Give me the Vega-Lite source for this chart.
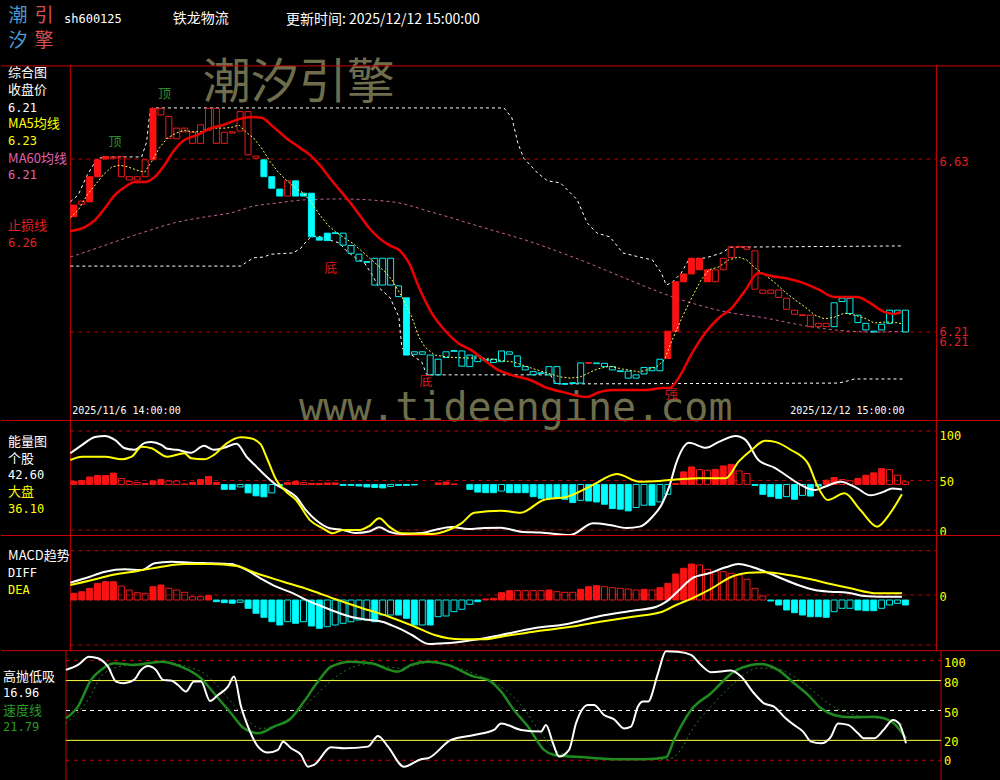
{
"$schema": "https://vega.github.io/schema/vega-lite/v6.json",
"background": "#000000",
"padding": 0,
"spacing": 0,
"bounds": "flush",
"config": {"view": {"stroke": null}, "axis": {"disable": true}, "text": {"font": "Noto Sans CJK SC", "fontSize": 13, "baseline": "middle", "align": "left"}},
"datasets": {
"one": [{}],
"candles": [
{"i":0,"open":6.490,"close":6.518,"s":1},{"i":1,"open":6.520,"close":6.528,"s":0},{"i":2,"open":6.526,"close":6.587,"s":1},{"i":3,"open":6.587,"close":6.628,"s":1},{"i":4,"open":6.630,"close":6.636,"s":1},{"i":5,"open":6.632,"close":6.635,"s":0},{"i":6,"open":6.587,"close":6.636,"s":0},{"i":7,"open":6.579,"close":6.587,"s":0},{"i":8,"open":6.579,"close":6.587,"s":0},{"i":9,"open":6.587,"close":6.628,"s":0},
{"i":10,"open":6.628,"close":6.753,"s":1},{"i":11,"open":6.737,"close":6.753,"s":0},{"i":12,"open":6.680,"close":6.733,"s":0},{"i":13,"open":6.679,"close":6.705,"s":0},{"i":14,"open":6.696,"close":6.705,"s":0},{"i":15,"open":6.668,"close":6.695,"s":0},{"i":16,"open":6.668,"close":6.713,"s":0},{"i":17,"open":6.700,"close":6.753,"s":0},{"i":18,"open":6.668,"close":6.753,"s":0},{"i":19,"open":6.668,"close":6.695,"s":0},
{"i":20,"open":6.693,"close":6.696,"s":0},{"i":21,"open":6.698,"close":6.745,"s":0},{"i":22,"open":6.640,"close":6.745,"s":0},{"i":23,"open":6.632,"close":6.637,"s":0},{"i":24,"open":6.628,"close":6.587,"s":1},{"i":25,"open":6.587,"close":6.559,"s":1},{"i":26,"open":6.557,"close":6.540,"s":1},{"i":27,"open":6.540,"close":6.577,"s":0},{"i":28,"open":6.577,"close":6.540,"s":1},{"i":29,"open":6.547,"close":6.540,"s":1},
{"i":30,"open":6.547,"close":6.441,"s":1},{"i":31,"open":6.440,"close":6.433,"s":1},{"i":32,"open":6.450,"close":6.432,"s":1},{"i":33,"open":6.451,"close":6.449,"s":0},{"i":34,"open":6.450,"close":6.421,"s":0},{"i":35,"open":6.420,"close":6.401,"s":0},{"i":36,"open":6.399,"close":6.382,"s":0},{"i":37,"open":6.381,"close":6.379,"s":0},{"i":38,"open":6.389,"close":6.324,"s":0},{"i":39,"open":6.389,"close":6.324,"s":0},
{"i":40,"open":6.389,"close":6.324,"s":0},{"i":41,"open":6.322,"close":6.296,"s":0},{"i":42,"open":6.293,"close":6.154,"s":1},{"i":43,"open":6.162,"close":6.156,"s":0},{"i":44,"open":6.162,"close":6.156,"s":0},{"i":45,"open":6.154,"close":6.106,"s":0},{"i":46,"open":6.144,"close":6.106,"s":0},{"i":47,"open":6.162,"close":6.148,"s":0},{"i":48,"open":6.165,"close":6.163,"s":0},{"i":49,"open":6.164,"close":6.127,"s":0},
{"i":50,"open":6.154,"close":6.126,"s":0},{"i":51,"open":6.152,"close":6.138,"s":0},{"i":52,"open":6.143,"close":6.141,"s":0},{"i":53,"open":6.144,"close":6.136,"s":0},{"i":54,"open":6.164,"close":6.138,"s":0},{"i":55,"open":6.162,"close":6.156,"s":0},{"i":56,"open":6.152,"close":6.126,"s":0},{"i":57,"open":6.126,"close":6.118,"s":0},{"i":58,"open":6.114,"close":6.106,"s":0},{"i":59,"open":6.111,"close":6.109,"s":0},
{"i":60,"open":6.126,"close":6.106,"s":0},{"i":61,"open":6.126,"close":6.085,"s":0},{"i":62,"open":6.085,"close":6.083,"s":0},{"i":63,"open":6.087,"close":6.085,"s":0},{"i":64,"open":6.135,"close":6.086,"s":0},{"i":65,"open":6.134,"close":6.136,"s":0},{"i":66,"open":6.135,"close":6.133,"s":0},{"i":67,"open":6.134,"close":6.126,"s":0},{"i":68,"open":6.126,"close":6.118,"s":0},{"i":69,"open":6.116,"close":6.114,"s":0},
{"i":70,"open":6.115,"close":6.098,"s":0},{"i":71,"open":6.106,"close":6.098,"s":0},{"i":72,"open":6.124,"close":6.108,"s":0},{"i":73,"open":6.124,"close":6.116,"s":0},{"i":74,"open":6.144,"close":6.116,"s":0},{"i":75,"open":6.146,"close":6.212,"s":1},{"i":76,"open":6.212,"close":6.332,"s":1},{"i":77,"open":6.332,"close":6.351,"s":1},{"i":78,"open":6.351,"close":6.389,"s":1},{"i":79,"open":6.361,"close":6.389,"s":1},
{"i":80,"open":6.332,"close":6.361,"s":1},{"i":81,"open":6.332,"close":6.361,"s":0},{"i":82,"open":6.361,"close":6.389,"s":0},{"i":83,"open":6.391,"close":6.417,"s":0},{"i":84,"open":6.416,"close":6.418,"s":0},{"i":85,"open":6.411,"close":6.417,"s":0},{"i":86,"open":6.314,"close":6.407,"s":0},{"i":87,"open":6.304,"close":6.312,"s":0},{"i":88,"open":6.304,"close":6.312,"s":0},{"i":89,"open":6.294,"close":6.312,"s":0},
{"i":90,"open":6.265,"close":6.292,"s":0},{"i":91,"open":6.253,"close":6.263,"s":0},{"i":92,"open":6.250,"close":6.252,"s":0},{"i":93,"open":6.223,"close":6.251,"s":0},{"i":94,"open":6.223,"close":6.231,"s":0},{"i":95,"open":6.223,"close":6.231,"s":0},{"i":96,"open":6.281,"close":6.223,"s":0},{"i":97,"open":6.292,"close":6.284,"s":0},{"i":98,"open":6.292,"close":6.255,"s":0},{"i":99,"open":6.251,"close":6.233,"s":0},
{"i":100,"open":6.231,"close":6.215,"s":0},{"i":101,"open":6.212,"close":6.210,"s":0},{"i":102,"open":6.229,"close":6.215,"s":0},{"i":103,"open":6.263,"close":6.231,"s":0},{"i":104,"open":6.263,"close":6.255,"s":0},{"i":105,"open":6.263,"close":6.210,"s":0}
],
"upper": [{"t":-0.44,"p":6.526},{"t":0.56,"p":6.543},{"t":1.69,"p":6.591},{"t":2.44,"p":6.615},{"t":3.06,"p":6.632},{"t":4.56,"p":6.635},{"t":8.56,"p":6.635},{"t":9.19,"p":6.671},{"t":9.56,"p":6.737},{"t":9.94,"p":6.754},{"t":54.31,"p":6.754},{"t":55.31,"p":6.730},{"t":56.06,"p":6.669},{"t":56.81,"p":6.632},{"t":58.56,"p":6.596},{"t":59.81,"p":6.577},{"t":61.44,"p":6.572},{"t":63.56,"p":6.531},{"t":64.81,"p":6.475},{"t":66.06,"p":6.450},{"t":67.69,"p":6.441},{"t":69.31,"p":6.402},{"t":71.81,"p":6.390},{"t":73.06,"p":6.385},{"t":74.19,"p":6.353},{"t":74.81,"p":6.324},{"t":75.56,"p":6.331},{"t":76.69,"p":6.353},{"t":77.69,"p":6.387},{"t":79.81,"p":6.390},{"t":81.81,"p":6.402},{"t":82.94,"p":6.416},{"t":104.56,"p":6.419}],
"lower": [{"t":-0.44,"p":6.370},{"t":21.06,"p":6.370},{"t":21.69,"p":6.378},{"t":22.69,"p":6.390},{"t":23.94,"p":6.392},{"t":24.94,"p":6.399},{"t":27.69,"p":6.402},{"t":28.69,"p":6.414},{"t":29.31,"p":6.429},{"t":29.94,"p":6.441},{"t":30.81,"p":6.443},{"t":32.31,"p":6.433},{"t":33.56,"p":6.426},{"t":34.31,"p":6.409},{"t":35.56,"p":6.390},{"t":36.69,"p":6.378},{"t":37.69,"p":6.348},{"t":38.56,"p":6.317},{"t":39.94,"p":6.293},{"t":41.06,"p":6.246},{"t":41.19,"p":6.215},{"t":41.44,"p":6.171},{"t":42.69,"p":6.154},{"t":43.94,"p":6.137},{"t":44.56,"p":6.106},{"t":60.19,"p":6.106},{"t":60.56,"p":6.093},{"t":61.06,"p":6.084},{"t":96.44,"p":6.086},{"t":97.31,"p":6.089},{"t":98.56,"p":6.096},{"t":104.81,"p":6.096}],
"ma60": [{"t":-0.44,"p":6.392},{"t":1.44,"p":6.404},{"t":5.19,"p":6.429},{"t":8.94,"p":6.453},{"t":12.69,"p":6.475},{"t":16.44,"p":6.489},{"t":20.19,"p":6.501},{"t":22.31,"p":6.514},{"t":25.56,"p":6.523},{"t":29.31,"p":6.531},{"t":33.56,"p":6.533},{"t":40.19,"p":6.526},{"t":45.19,"p":6.501},{"t":51.44,"p":6.465},{"t":57.69,"p":6.429},{"t":63.94,"p":6.385},{"t":70.19,"p":6.336},{"t":73.94,"p":6.307},{"t":78.06,"p":6.280},{"t":82.31,"p":6.259},{"t":87.31,"p":6.244},{"t":91.81,"p":6.227},{"t":96.06,"p":6.215},{"t":101.06,"p":6.210},{"t":104.81,"p":6.212}],
"ma5": [{"t":-0.44,"p":6.487},{"t":0.56,"p":6.506},{"t":1.69,"p":6.543},{"t":2.69,"p":6.567},{"t":3.69,"p":6.591},{"t":4.81,"p":6.611},{"t":5.81,"p":6.615},{"t":6.81,"p":6.611},{"t":7.94,"p":6.603},{"t":8.94,"p":6.598},{"t":9.81,"p":6.623},{"t":10.81,"p":6.657},{"t":11.81,"p":6.681},{"t":12.94,"p":6.693},{"t":13.94,"p":6.700},{"t":14.94,"p":6.696},{"t":16.06,"p":6.696},{"t":17.06,"p":6.705},{"t":19.19,"p":6.705},{"t":20.19,"p":6.708},{"t":20.81,"p":6.713},{"t":21.69,"p":6.696},{"t":22.69,"p":6.681},{"t":23.69,"p":6.657},{"t":24.81,"p":6.623},{"t":25.81,"p":6.598},{"t":26.81,"p":6.579},{"t":27.94,"p":6.560},{"t":28.94,"p":6.548},{"t":29.94,"p":6.526},{"t":31.06,"p":6.494},{"t":32.06,"p":6.470},{"t":33.06,"p":6.453},{"t":34.19,"p":6.438},{"t":35.19,"p":6.426},{"t":36.19,"p":6.409},{"t":37.31,"p":6.390},{"t":38.31,"p":6.373},{"t":39.31,"p":6.356},{"t":40.19,"p":6.336},{"t":41.44,"p":6.295},{"t":42.69,"p":6.246},{"t":43.56,"p":6.198},{"t":44.31,"p":6.174},{"t":45.56,"p":6.154},{"t":47.31,"p":6.149},{"t":49.31,"p":6.147},{"t":51.44,"p":6.147},{"t":53.56,"p":6.142},{"t":55.56,"p":6.137},{"t":57.69,"p":6.123},{"t":59.81,"p":6.110},{"t":61.44,"p":6.101},{"t":62.69,"p":6.098},{"t":63.94,"p":6.101},{"t":66.06,"p":6.120},{"t":67.69,"p":6.127},{"t":69.31,"p":6.120},{"t":71.44,"p":6.113},{"t":73.56,"p":6.125},{"t":74.56,"p":6.142},{"t":75.56,"p":6.191},{"t":76.81,"p":6.246},{"t":78.06,"p":6.295},{"t":79.19,"p":6.336},{"t":80.19,"p":6.361},{"t":81.44,"p":6.368},{"t":82.69,"p":6.385},{"t":83.94,"p":6.392},{"t":84.94,"p":6.385},{"t":86.06,"p":6.365},{"t":87.31,"p":6.348},{"t":88.56,"p":6.329},{"t":89.81,"p":6.307},{"t":91.06,"p":6.288},{"t":92.31,"p":6.271},{"t":93.56,"p":6.251},{"t":94.81,"p":6.242},{"t":96.06,"p":6.246},{"t":97.31,"p":6.256},{"t":98.56,"p":6.251},{"t":99.81,"p":6.244},{"t":101.06,"p":6.232},{"t":102.31,"p":6.234},{"t":103.56,"p":6.234},{"t":104.56,"p":6.230}],
"stop": [{"t":-0.44,"p":6.455},{"t":1.44,"p":6.465},{"t":2.69,"p":6.482},{"t":3.94,"p":6.511},{"t":5.19,"p":6.543},{"t":6.44,"p":6.562},{"t":7.69,"p":6.574},{"t":8.94,"p":6.574},{"t":10.19,"p":6.586},{"t":11.44,"p":6.615},{"t":12.69,"p":6.652},{"t":13.94,"p":6.676},{"t":15.56,"p":6.688},{"t":17.31,"p":6.705},{"t":18.94,"p":6.713},{"t":20.56,"p":6.725},{"t":22.31,"p":6.732},{"t":23.69,"p":6.730},{"t":25.19,"p":6.708},{"t":26.81,"p":6.681},{"t":28.56,"p":6.657},{"t":29.81,"p":6.640},{"t":31.06,"p":6.615},{"t":32.31,"p":6.584},{"t":33.56,"p":6.555},{"t":34.81,"p":6.526},{"t":36.06,"p":6.494},{"t":37.31,"p":6.462},{"t":38.56,"p":6.438},{"t":39.81,"p":6.421},{"t":41.06,"p":6.409},{"t":42.31,"p":6.378},{"t":43.56,"p":6.319},{"t":45.19,"p":6.256},{"t":46.81,"p":6.215},{"t":48.56,"p":6.183},{"t":50.19,"p":6.166},{"t":51.81,"p":6.142},{"t":53.56,"p":6.118},{"t":55.19,"p":6.106},{"t":57.69,"p":6.093},{"t":59.81,"p":6.074},{"t":61.81,"p":6.064},{"t":64.81,"p":6.052},{"t":66.06,"p":6.062},{"t":68.06,"p":6.069},{"t":72.31,"p":6.069},{"t":74.31,"p":6.074},{"t":75.19,"p":6.074},{"t":76.44,"p":6.101},{"t":78.06,"p":6.159},{"t":79.81,"p":6.210},{"t":81.44,"p":6.244},{"t":83.06,"p":6.268},{"t":84.81,"p":6.312},{"t":86.44,"p":6.353},{"t":88.06,"p":6.346},{"t":89.81,"p":6.341},{"t":91.81,"p":6.331},{"t":93.94,"p":6.314},{"t":96.06,"p":6.295},{"t":98.94,"p":6.295},{"t":100.56,"p":6.280},{"t":102.31,"p":6.259},{"t":103.56,"p":6.254},{"t":104.56,"p":6.260}],
"signals": [{"t":5.19,"p":6.671,"label":"顶"},{"t":11.44,"p":6.788,"label":"顶"},{"t":32.44,"p":6.365,"label":"底"},{"t":44.44,"p":6.092,"label":"底"},{"t":75.44,"p":6.059,"label":"强"}],
"ebars": [
{"i":0,"v":49,"s":1},{"i":1,"v":50,"s":1},{"i":2,"v":53.5,"s":1},{"i":3,"v":55,"s":1},{"i":4,"v":55,"s":1},{"i":5,"v":57.5,"s":1},{"i":6,"v":52,"s":0},{"i":7,"v":49,"s":0},{"i":8,"v":48,"s":0},{"i":9,"v":47,"s":0},
{"i":10,"v":49.5,"s":1},{"i":11,"v":51,"s":1},{"i":12,"v":49.5,"s":0},{"i":13,"v":49.5,"s":0},{"i":14,"v":46.5,"s":0},{"i":15,"v":48,"s":1},{"i":16,"v":51,"s":1},{"i":17,"v":54,"s":1},{"i":18,"v":48,"s":1},{"i":19,"v":41,"s":1},
{"i":20,"v":41,"s":1},{"i":21,"v":43.5,"s":0},{"i":22,"v":37.5,"s":1},{"i":23,"v":34.5,"s":1},{"i":24,"v":33.5,"s":1},{"i":25,"v":37.5,"s":0},{"i":26,"v":45,"s":0},{"i":27,"v":48,"s":1},{"i":28,"v":49,"s":1},{"i":29,"v":48,"s":0},
{"i":30,"v":47,"s":1},{"i":31,"v":47,"s":1},{"i":32,"v":47.5,"s":1},{"i":33,"v":47.5,"s":1},{"i":34,"v":45,"s":1},{"i":35,"v":45,"s":1},{"i":36,"v":44.5,"s":1},{"i":37,"v":43.5,"s":1},{"i":38,"v":43,"s":1},{"i":39,"v":42.5,"s":1},
{"i":40,"v":44,"s":0},{"i":41,"v":45,"s":1},{"i":42,"v":45,"s":1},{"i":43,"v":45.5,"s":1},{"i":46,"v":47.5,"s":1},{"i":47,"v":48.5,"s":1},{"i":48,"v":46.5,"s":1},
{"i":50,"v":41,"s":1},{"i":51,"v":38.3,"s":1},{"i":52,"v":37.7,"s":1},{"i":53,"v":37.7,"s":1},{"i":54,"v":39.3,"s":0},{"i":55,"v":37.7,"s":1},{"i":56,"v":37.7,"s":1},{"i":57,"v":37.7,"s":1},{"i":58,"v":33.7,"s":1},{"i":59,"v":32,"s":1},
{"i":60,"v":32,"s":1},{"i":61,"v":32,"s":1},{"i":62,"v":31,"s":1},{"i":63,"v":27.7,"s":1},{"i":64,"v":30,"s":0},{"i":65,"v":29.3,"s":1},{"i":66,"v":28.3,"s":1},{"i":67,"v":26,"s":1},{"i":68,"v":21.7,"s":1},{"i":69,"v":21,"s":1},
{"i":70,"v":19.3,"s":1},{"i":71,"v":22.7,"s":0},{"i":72,"v":25,"s":0},{"i":73,"v":25,"s":1},{"i":74,"v":28.3,"s":0},{"i":75,"v":36,"s":0},{"i":76,"v":47,"s":1},{"i":77,"v":58.7,"s":1},{"i":78,"v":63.7,"s":1},{"i":79,"v":61,"s":0},
{"i":80,"v":60.3,"s":0},{"i":81,"v":61.3,"s":1},{"i":82,"v":64.7,"s":1},{"i":83,"v":66.3,"s":1},{"i":84,"v":59.7,"s":0},{"i":85,"v":57,"s":0},{"i":86,"v":45,"s":1},{"i":87,"v":36,"s":1},{"i":88,"v":33.7,"s":1},{"i":89,"v":32,"s":1},
{"i":90,"v":33.7,"s":0},{"i":91,"v":31,"s":1},{"i":92,"v":35,"s":0},{"i":93,"v":34.3,"s":1},{"i":94,"v":44.3,"s":1},{"i":95,"v":50.3,"s":1},{"i":96,"v":53,"s":1},{"i":97,"v":51,"s":0},{"i":98,"v":49.7,"s":0},{"i":99,"v":52,"s":1},
{"i":100,"v":55.3,"s":1},{"i":101,"v":57.7,"s":1},{"i":102,"v":62,"s":1},{"i":103,"v":61,"s":0},{"i":104,"v":55.3,"s":0},{"i":105,"v":48.7,"s":0}
],
"stock": [{"t":-0.44,"v":77.5},{"t":1.06,"v":86},{"t":2.69,"v":94},{"t":3.94,"v":95},{"t":5.19,"v":91},{"t":6.44,"v":82.5},{"t":7.69,"v":81},{"t":8.94,"v":88},{"t":9.81,"v":89},{"t":11.06,"v":86},{"t":11.81,"v":82},{"t":13.06,"v":81},{"t":14.81,"v":78},{"t":16.44,"v":85},{"t":17.69,"v":81},{"t":18.94,"v":83},{"t":20.56,"v":87},{"t":21.81,"v":74},{"t":23.06,"v":64},{"t":24.31,"v":54},{"t":25.56,"v":45.5},{"t":26.81,"v":40.5},{"t":28.06,"v":33.6},{"t":29.31,"v":20},{"t":30.56,"v":10},{"t":32.31,"v":1.7},{"t":33.94,"v":0},{"t":35.56,"v":-3},{"t":37.31,"v":-1.5},{"t":38.56,"v":2.7},{"t":39.81,"v":-1.7},{"t":41.44,"v":-4},{"t":43.94,"v":-3},{"t":45.56,"v":0},{"t":47.69,"v":3},{"t":49.81,"v":1},{"t":51.81,"v":2},{"t":53.94,"v":2.3},{"t":56.44,"v":-1.7},{"t":58.94,"v":-2.5},{"t":62.69,"v":-5},{"t":65.56,"v":6.7},{"t":67.69,"v":5},{"t":69.81,"v":2},{"t":71.44,"v":3.4},{"t":73.06,"v":13.4},{"t":74.31,"v":27},{"t":75.19,"v":44},{"t":76.06,"v":67.6},{"t":77.69,"v":88},{"t":79.81,"v":83},{"t":81.44,"v":89},{"t":83.56,"v":95},{"t":84.81,"v":91},{"t":86.44,"v":70.7},{"t":88.56,"v":62.6},{"t":90.19,"v":53.8},{"t":91.81,"v":45.5},{"t":93.56,"v":40.4},{"t":94.81,"v":43.7},{"t":96.81,"v":48.8},{"t":98.94,"v":42},{"t":100.56,"v":35},{"t":102.31,"v":38.7},{"t":103.31,"v":42},{"t":104.56,"v":41}],
"market": [{"t":-0.44,"v":70.7},{"t":1.06,"v":74},{"t":3.94,"v":74},{"t":6.06,"v":71.4},{"t":7.31,"v":74},{"t":8.56,"v":84},{"t":9.81,"v":82.5},{"t":11.81,"v":74},{"t":13.94,"v":77.5},{"t":14.81,"v":72.4},{"t":16.44,"v":71.4},{"t":17.69,"v":75.8},{"t":19.31,"v":87.5},{"t":21.06,"v":93.6},{"t":22.31,"v":92.6},{"t":23.56,"v":86.9},{"t":24.31,"v":74},{"t":25.56,"v":50.5},{"t":26.81,"v":38.7},{"t":28.06,"v":30.3},{"t":29.81,"v":10},{"t":31.44,"v":1.7},{"t":32.69,"v":-3.4},{"t":33.94,"v":0},{"t":36.06,"v":0},{"t":37.31,"v":4},{"t":38.56,"v":11.8},{"t":39.81,"v":3.4},{"t":41.44,"v":-3.4},{"t":45.19,"v":-4},{"t":47.31,"v":0},{"t":48.94,"v":6.7},{"t":50.56,"v":17.5},{"t":53.94,"v":19.5},{"t":56.44,"v":17.5},{"t":59.31,"v":30.3},{"t":62.31,"v":33.6},{"t":65.56,"v":45.5},{"t":68.56,"v":56.6},{"t":71.44,"v":48.8},{"t":73.94,"v":49.5},{"t":76.44,"v":51.2},{"t":78.94,"v":52.2},{"t":82.31,"v":52.2},{"t":83.94,"v":69},{"t":85.56,"v":80.8},{"t":87.31,"v":90.2},{"t":88.56,"v":89},{"t":90.56,"v":80.8},{"t":92.69,"v":67.3},{"t":93.94,"v":43.7},{"t":95.19,"v":30.3},{"t":97.31,"v":37},{"t":99.31,"v":20.2},{"t":101.44,"v":3.4},{"t":103.06,"v":16.8},{"t":104.56,"v":36.1}],
"mbars": [
{"i":0,"v":0.0067,"s":1},{"i":1,"v":0.0083,"s":1},{"i":2,"v":0.0117,"s":1},{"i":3,"v":0.0167,"s":1},{"i":4,"v":0.0183,"s":1},{"i":5,"v":0.0183,"s":1},{"i":6,"v":0.014,"s":0},{"i":7,"v":0.01,"s":0},{"i":8,"v":0.0073,"s":0},{"i":9,"v":0.0067,"s":0},
{"i":10,"v":0.0133,"s":1},{"i":11,"v":0.015,"s":1},{"i":12,"v":0.0117,"s":0},{"i":13,"v":0.01,"s":0},{"i":14,"v":0.0077,"s":0},{"i":15,"v":0.0033,"s":0},{"i":16,"v":0.0033,"s":0},{"i":17,"v":0.0043,"s":1},{"i":18,"v":-0.0017,"s":1},{"i":19,"v":-0.0027,"s":1},
{"i":20,"v":-0.0033,"s":1},{"i":21,"v":-0.0023,"s":0},{"i":22,"v":-0.0083,"s":1},{"i":23,"v":-0.0133,"s":1},{"i":24,"v":-0.0173,"s":1},{"i":25,"v":-0.0217,"s":1},{"i":26,"v":-0.025,"s":1},{"i":27,"v":-0.0217,"s":0},{"i":28,"v":-0.0233,"s":1},{"i":29,"v":-0.0217,"s":0},
{"i":30,"v":-0.026,"s":1},{"i":31,"v":-0.0283,"s":1},{"i":32,"v":-0.0267,"s":0},{"i":33,"v":-0.025,"s":0},{"i":34,"v":-0.0233,"s":0},{"i":35,"v":-0.0217,"s":0},{"i":36,"v":-0.02,"s":0},{"i":37,"v":-0.02,"s":0},{"i":38,"v":-0.0217,"s":1},{"i":39,"v":-0.015,"s":0},
{"i":40,"v":-0.015,"s":0},{"i":41,"v":-0.015,"s":1},{"i":42,"v":-0.0183,"s":1},{"i":43,"v":-0.025,"s":1},{"i":44,"v":-0.025,"s":0},{"i":45,"v":-0.025,"s":1},{"i":46,"v":-0.0167,"s":0},{"i":47,"v":-0.016,"s":0},{"i":48,"v":-0.0117,"s":0},{"i":49,"v":-0.0093,"s":0},
{"i":50,"v":-0.0043,"s":0},{"i":51,"v":-0.0017,"s":1},{"i":52,"v":0.001,"s":1},{"i":53,"v":0.0017,"s":1},{"i":54,"v":0.0073,"s":1},{"i":55,"v":0.0093,"s":1},{"i":56,"v":0.0093,"s":0},{"i":57,"v":0.0093,"s":0},{"i":58,"v":0.0093,"s":0},{"i":59,"v":0.0093,"s":0},
{"i":60,"v":0.01,"s":1},{"i":61,"v":0.0083,"s":0},{"i":62,"v":0.0077,"s":0},{"i":63,"v":0.0077,"s":0},{"i":64,"v":0.0107,"s":1},{"i":65,"v":0.0133,"s":1},{"i":66,"v":0.0143,"s":1},{"i":67,"v":0.0133,"s":0},{"i":68,"v":0.0123,"s":0},{"i":69,"v":0.0117,"s":0},
{"i":70,"v":0.011,"s":0},{"i":71,"v":0.01,"s":0},{"i":72,"v":0.0107,"s":1},{"i":73,"v":0.01,"s":0},{"i":74,"v":0.0123,"s":1},{"i":75,"v":0.0167,"s":1},{"i":76,"v":0.026,"s":1},{"i":77,"v":0.0317,"s":1},{"i":78,"v":0.036,"s":1},{"i":79,"v":0.035,"s":0},
{"i":80,"v":0.0307,"s":0},{"i":81,"v":0.0283,"s":0},{"i":82,"v":0.0283,"s":0},{"i":83,"v":0.0267,"s":0},{"i":84,"v":0.025,"s":0},{"i":85,"v":0.0207,"s":0},{"i":86,"v":0.0117,"s":0},{"i":87,"v":0.004,"s":0},{"i":88,"v":-0.001,"s":1},{"i":89,"v":-0.005,"s":1},
{"i":90,"v":-0.01,"s":1},{"i":91,"v":-0.0127,"s":1},{"i":92,"v":-0.015,"s":1},{"i":93,"v":-0.0167,"s":1},{"i":94,"v":-0.0167,"s":1},{"i":95,"v":-0.0173,"s":1},{"i":96,"v":-0.0117,"s":0},{"i":97,"v":-0.0083,"s":0},{"i":98,"v":-0.0083,"s":0},{"i":99,"v":-0.01,"s":1},
{"i":100,"v":-0.0107,"s":1},{"i":101,"v":-0.0107,"s":1},{"i":102,"v":-0.0083,"s":0},{"i":103,"v":-0.005,"s":0},{"i":104,"v":-0.0033,"s":0},{"i":105,"v":-0.005,"s":1}
],
"diff": [{"t":-0.44,"v":0.0173},{"t":1.44,"v":0.0217},{"t":3.94,"v":0.0283},{"t":6.44,"v":0.0307},{"t":8.56,"v":0.03},{"t":10.19,"v":0.0367},{"t":12.31,"v":0.0383},{"t":14.81,"v":0.0373},{"t":17.31,"v":0.0367},{"t":19.81,"v":0.036},{"t":21.44,"v":0.0317},{"t":23.56,"v":0.0217},{"t":25.56,"v":0.0133},{"t":27.69,"v":0.0067},{"t":29.81,"v":-0.0017},{"t":31.44,"v":-0.0067},{"t":33.06,"v":-0.0117},{"t":35.19,"v":-0.0173},{"t":37.31,"v":-0.02},{"t":38.94,"v":-0.0217},{"t":40.56,"v":-0.0267},{"t":42.69,"v":-0.035},{"t":44.81,"v":-0.044},{"t":46.81,"v":-0.0433},{"t":48.94,"v":-0.0417},{"t":51.06,"v":-0.0393},{"t":53.94,"v":-0.035},{"t":58.06,"v":-0.0283},{"t":62.31,"v":-0.024},{"t":66.44,"v":-0.016},{"t":70.56,"v":-0.0107},{"t":73.56,"v":-0.0067},{"t":74.81,"v":-0.0017},{"t":76.44,"v":0.01},{"t":78.06,"v":0.0217},{"t":80.19,"v":0.0267},{"t":82.31,"v":0.0327},{"t":83.94,"v":0.036},{"t":85.56,"v":0.0333},{"t":87.31,"v":0.0283},{"t":89.31,"v":0.0217},{"t":91.44,"v":0.015},{"t":93.56,"v":0.01},{"t":95.56,"v":0.0083},{"t":97.69,"v":0.0073},{"t":99.81,"v":0.004},{"t":101.81,"v":0.0033},{"t":104.56,"v":0.0033}],
"dea": [{"t":-0.44,"v":0.015},{"t":2.31,"v":0.02},{"t":4.81,"v":0.025},{"t":8.06,"v":0.029},{"t":11.06,"v":0.0333},{"t":13.94,"v":0.036},{"t":17.31,"v":0.036},{"t":20.56,"v":0.034},{"t":23.06,"v":0.0267},{"t":26.44,"v":0.0183},{"t":29.81,"v":0.01},{"t":33.06,"v":0.0007},{"t":36.44,"v":-0.0083},{"t":39.81,"v":-0.0167},{"t":43.06,"v":-0.0267},{"t":45.56,"v":-0.035},{"t":48.94,"v":-0.0393},{"t":51.81,"v":-0.0393},{"t":53.94,"v":-0.0367},{"t":58.06,"v":-0.0317},{"t":62.31,"v":-0.0273},{"t":66.44,"v":-0.0217},{"t":70.56,"v":-0.0167},{"t":74.31,"v":-0.0117},{"t":76.06,"v":-0.005},{"t":78.06,"v":0.0017},{"t":80.56,"v":0.0117},{"t":83.06,"v":0.0233},{"t":85.19,"v":0.0273},{"t":87.31,"v":0.0277},{"t":90.19,"v":0.025},{"t":93.06,"v":0.0207},{"t":95.56,"v":0.016},{"t":98.06,"v":0.0117},{"t":101.44,"v":0.0067},{"t":104.56,"v":0.0067}],
"gaodi": [{"t":-0.44,"v":90.7},{"t":1.06,"v":95.7},{"t":2.44,"v":104},{"t":3.56,"v":102.4},{"t":4.81,"v":94},{"t":5.81,"v":79},{"t":6.81,"v":77.3},{"t":8.06,"v":80.7},{"t":8.94,"v":90.7},{"t":9.81,"v":94.7},{"t":10.81,"v":90.7},{"t":11.69,"v":80.7},{"t":12.69,"v":80},{"t":13.56,"v":75.6},{"t":14.56,"v":69},{"t":15.56,"v":79},{"t":16.44,"v":79},{"t":17.56,"v":59.6},{"t":18.56,"v":65.6},{"t":19.81,"v":74},{"t":20.56,"v":84},{"t":21.44,"v":53.9},{"t":22.31,"v":33.8},{"t":23.56,"v":13.7},{"t":24.81,"v":7.7},{"t":26.06,"v":10.4},{"t":26.69,"v":18.7},{"t":27.69,"v":12},{"t":28.94,"v":5.4},{"t":29.81,"v":-6.4},{"t":30.56,"v":-4.7},{"t":32.69,"v":13},{"t":34.31,"v":12},{"t":37.31,"v":13.7},{"t":38.56,"v":24.4},{"t":39.81,"v":13.7},{"t":41.81,"v":-6.4},{"t":43.94,"v":1},{"t":44.81,"v":2},{"t":47.69,"v":20.4},{"t":50.56,"v":25.4},{"t":53.06,"v":30.5},{"t":53.94,"v":37},{"t":56.44,"v":30.5},{"t":58.94,"v":28.8},{"t":59.56,"v":35.5},{"t":60.44,"v":17},{"t":61.19,"v":3.7},{"t":62.44,"v":10.4},{"t":63.31,"v":37},{"t":64.81,"v":55.6},{"t":65.56,"v":55.6},{"t":66.81,"v":45.5},{"t":68.06,"v":41.2},{"t":69.31,"v":32},{"t":70.19,"v":33.8},{"t":71.06,"v":54},{"t":71.69,"v":59},{"t":72.31,"v":59},{"t":73.56,"v":87.3},{"t":74.56,"v":109.5},{"t":76.06,"v":109},{"t":77.69,"v":105.8},{"t":78.94,"v":95.7},{"t":80.19,"v":88.4},{"t":82.69,"v":90},{"t":83.94,"v":84},{"t":85.56,"v":67.3},{"t":86.81,"v":57.2},{"t":88.06,"v":53.9},{"t":89.31,"v":43.8},{"t":90.56,"v":35.5},{"t":91.69,"v":28.8},{"t":92.69,"v":18.7},{"t":93.94,"v":17},{"t":95.19,"v":23.8},{"t":96.06,"v":37},{"t":97.31,"v":35.5},{"t":98.56,"v":27.1},{"t":99.31,"v":22},{"t":100.56,"v":22},{"t":101.81,"v":31},{"t":102.94,"v":40.5},{"t":103.69,"v":37},{"t":104.56,"v":17}],
"speed": [{"t":-0.44,"v":42.2},{"t":1.06,"v":53.9},{"t":2.69,"v":80.7},{"t":3.94,"v":90.7},{"t":5.56,"v":97.4},{"t":8.06,"v":95.7},{"t":11.44,"v":99},{"t":13.94,"v":94},{"t":16.44,"v":82.3},{"t":18.06,"v":67.3},{"t":20.19,"v":47.2},{"t":21.81,"v":32.1},{"t":23.56,"v":27.1},{"t":25.56,"v":33.8},{"t":27.69,"v":42.2},{"t":29.31,"v":58.9},{"t":31.06,"v":79},{"t":32.69,"v":94},{"t":35.19,"v":99},{"t":37.69,"v":97.4},{"t":41.06,"v":89},{"t":42.69,"v":95.7},{"t":44.81,"v":99},{"t":47.31,"v":95.7},{"t":50.56,"v":84},{"t":52.31,"v":80.7},{"t":53.94,"v":69},{"t":55.56,"v":50.5},{"t":57.31,"v":33.8},{"t":59.31,"v":10.4},{"t":60.56,"v":5.4},{"t":64.31,"v":3},{"t":68.56,"v":1},{"t":71.81,"v":1},{"t":74.56,"v":3},{"t":75.56,"v":20.4},{"t":77.69,"v":50.5},{"t":80.19,"v":67.3},{"t":83.06,"v":89},{"t":85.19,"v":95.7},{"t":86.44,"v":96.7},{"t":88.56,"v":90.7},{"t":90.56,"v":77.3},{"t":92.31,"v":65.6},{"t":93.94,"v":52.2},{"t":95.56,"v":45.5},{"t":97.69,"v":43.2},{"t":100.56,"v":43.8},{"t":101.81,"v":42.2},{"t":103.06,"v":37},{"t":104.56,"v":21.8}],
"speedSlow": [{"t":-0.44,"v":37},{"t":2.31,"v":60.6},{"t":4.31,"v":87.3},{"t":7.31,"v":95.7},{"t":11.44,"v":98},{"t":16.44,"v":89},{"t":18.94,"v":70.6},{"t":21.44,"v":47.2},{"t":23.94,"v":32},{"t":26.06,"v":35.5},{"t":28.94,"v":50.5},{"t":31.44,"v":70.6},{"t":33.94,"v":87.3},{"t":37.31,"v":96.7},{"t":41.44,"v":92.4},{"t":44.81,"v":98},{"t":48.06,"v":94},{"t":51.44,"v":84},{"t":53.94,"v":74},{"t":56.44,"v":55.6},{"t":58.94,"v":27},{"t":61.44,"v":7},{"t":64.31,"v":3},{"t":74.81,"v":1},{"t":76.06,"v":7},{"t":78.06,"v":33.8},{"t":80.56,"v":57.2},{"t":83.06,"v":77.3},{"t":86.06,"v":92.4},{"t":88.06,"v":92.4},{"t":90.56,"v":84},{"t":92.31,"v":74},{"t":94.81,"v":57.2},{"t":97.31,"v":47.2},{"t":99.81,"v":43.2},{"t":102.31,"v":41.2},{"t":104.31,"v":35.5}]
},
"vconcat": [
{
"width": 1000, "height": 65,
"data": {"name": "one"},
"layer": [
{"mark": {"type": "text", "text": "潮", "color": "#4a9ad0", "fontSize": 19, "align": "center"}, "encoding": {"x": {"datum": -6.44, "scale": {"domain": [-8.5625, 116.4375], "nice": false, "zero": false}, "axis": null}, "y": {"datum": 16, "scale": {"domain": [0, 65], "reverse": true, "nice": false, "zero": false}, "axis": null}}},
{"mark": {"type": "text", "text": "汐", "color": "#4a9ad0", "fontSize": 19, "align": "center"}, "encoding": {"x": {"datum": -6.44}, "y": {"datum": 41}}},
{"mark": {"type": "text", "text": "引", "color": "#d85050", "fontSize": 19, "align": "center"}, "encoding": {"x": {"datum": -3.19}, "y": {"datum": 16}}},
{"mark": {"type": "text", "text": "擎", "color": "#d85050", "fontSize": 19, "align": "center"}, "encoding": {"x": {"datum": -3.19}, "y": {"datum": 41}}},
{"mark": {"type": "text", "text": "sh600125", "color": "#ffffff", "fontSize": 12, "font": "DejaVu Sans Mono"}, "encoding": {"x": {"datum": -0.69}, "y": {"datum": 19}}},
{"mark": {"type": "text", "text": "铁龙物流", "color": "#ffffff", "fontSize": 14}, "encoding": {"x": {"datum": 12.9}, "y": {"datum": 19}}},
{"mark": {"type": "text", "text": "更新时间: 2025/12/12 15:00:00", "color": "#ffffff", "fontSize": 14}, "encoding": {"x": {"datum": 27.06}, "y": {"datum": 20}}}
]
},
{
"width": 1000, "height": 355,
"data": {"name": "one"},
"layer": [
{"mark": {"type": "text", "text": "潮汐引擎", "color": "#6e6e4c", "fontSize": 48, "align": "center"}, "encoding": {"x": {"datum": 28.4, "scale": {"domain": [-8.5625, 116.4375], "nice": false, "zero": false}, "axis": null}, "y": {"datum": 6.812, "scale": {"domain": [5.9964, 6.8582], "nice": false, "zero": false}, "axis": null}}},
{"mark": {"type": "text", "text": "www.tideengine.com", "color": "#6e6e4c", "fontSize": 40, "font": "DejaVu Sans Mono", "align": "center", "baseline": "alphabetic"}, "encoding": {"x": {"datum": 55.8}, "y": {"datum": 5.994}}},
{"mark": {"type": "rule", "color": "#d00000", "strokeWidth": 1}, "encoding": {"y": {"datum": 6.856}}},
{"mark": {"type": "rule", "color": "#d00000", "strokeWidth": 1}, "encoding": {"x": {"datum": -0.4375}}},
{"mark": {"type": "rule", "color": "#d00000", "strokeWidth": 1}, "encoding": {"x": {"datum": 108.94}}},
{"mark": {"type": "rule", "color": "#c00000", "strokeWidth": 1, "strokeDash": [4, 4]}, "encoding": {"y": {"datum": 6.63}, "x": {"datum": -0.4375}, "x2": {"datum": 108.94}}},
{"mark": {"type": "rule", "color": "#c00000", "strokeWidth": 1, "strokeDash": [4, 4]}, "encoding": {"y": {"datum": 6.21}, "x": {"datum": -0.4375}, "x2": {"datum": 108.94}}},
{"data": {"name": "upper"}, "mark": {"type": "line", "color": "#ffffff", "strokeWidth": 1, "strokeDash": [3, 3]}, "encoding": {"x": {"field": "t", "type": "quantitative"}, "y": {"field": "p", "type": "quantitative"}}},
{"data": {"name": "lower"}, "mark": {"type": "line", "color": "#ffffff", "strokeWidth": 1, "strokeDash": [3, 3]}, "encoding": {"x": {"field": "t", "type": "quantitative"}, "y": {"field": "p", "type": "quantitative"}}},
{"data": {"name": "ma60"}, "mark": {"type": "line", "color": "#c8609a", "strokeWidth": 1, "strokeDash": [3, 3], "interpolate": "monotone"}, "encoding": {"x": {"field": "t", "type": "quantitative"}, "y": {"field": "p", "type": "quantitative"}}},
{"data": {"name": "candles"}, "mark": {"type": "bar", "width": 6, "strokeWidth": 1}, "encoding": {"x": {"field": "i", "type": "quantitative"}, "y": {"field": "open", "type": "quantitative"}, "y2": {"field": "close"}, "stroke": {"condition": {"test": "datum.close >= datum.open", "value": "#f01818"}, "value": "#00f0f0"}, "fill": {"condition": [{"test": "datum.s == 1 && datum.close >= datum.open", "value": "#ff1010"}, {"test": "datum.s == 1", "value": "#00ffff"}], "value": "transparent"}}},
{"data": {"name": "ma5"}, "mark": {"type": "line", "color": "#ffff60", "strokeWidth": 1, "strokeDash": [2, 2]}, "encoding": {"x": {"field": "t", "type": "quantitative"}, "y": {"field": "p", "type": "quantitative"}}},
{"data": {"name": "stop"}, "mark": {"type": "line", "color": "#ee0000", "strokeWidth": 2.5, "interpolate": "monotone"}, "encoding": {"x": {"field": "t", "type": "quantitative"}, "y": {"field": "p", "type": "quantitative"}}},
{"data": {"name": "signals"}, "mark": {"type": "text", "fontSize": 13, "align": "center"}, "encoding": {"x": {"field": "t", "type": "quantitative"}, "y": {"field": "p", "type": "quantitative"}, "text": {"field": "label"}, "color": {"condition": {"test": "datum.label == '顶'", "value": "#2a8a2a"}, "value": "#d01818"}}},
{"mark": {"type": "text", "text": "综合图", "color": "#ffffff"}, "encoding": {"x": {"datum": -8.3}, "y": {"datum": 6.838}}},
{"mark": {"type": "text", "text": "收盘价", "color": "#ffffff"}, "encoding": {"x": {"datum": -8.3}, "y": {"datum": 6.797}}},
{"mark": {"type": "text", "text": "6.21", "color": "#ffffff", "font": "DejaVu Sans Mono", "fontSize": 12}, "encoding": {"x": {"datum": -8.3}, "y": {"datum": 6.755}}},
{"mark": {"type": "text", "text": "MA5均线", "color": "#ffff00"}, "encoding": {"x": {"datum": -8.3}, "y": {"datum": 6.715}}},
{"mark": {"type": "text", "text": "6.23", "color": "#ffff00", "font": "DejaVu Sans Mono", "fontSize": 12}, "encoding": {"x": {"datum": -8.3}, "y": {"datum": 6.673}}},
{"mark": {"type": "text", "text": "MA60均线", "color": "#e060b0"}, "encoding": {"x": {"datum": -8.3}, "y": {"datum": 6.631}}},
{"mark": {"type": "text", "text": "6.21", "color": "#e060b0", "font": "DejaVu Sans Mono", "fontSize": 12}, "encoding": {"x": {"datum": -8.3}, "y": {"datum": 6.590}}},
{"mark": {"type": "text", "text": "止损线", "color": "#e02020"}, "encoding": {"x": {"datum": -8.3}, "y": {"datum": 6.468}}},
{"mark": {"type": "text", "text": "6.26", "color": "#e02020", "font": "DejaVu Sans Mono", "fontSize": 12}, "encoding": {"x": {"datum": -8.3}, "y": {"datum": 6.425}}},
{"mark": {"type": "text", "text": "6.63", "color": "#e02020", "font": "DejaVu Sans Mono", "fontSize": 12}, "encoding": {"x": {"datum": 109.31}, "y": {"datum": 6.623}}},
{"mark": {"type": "text", "text": "6.21", "color": "#e02020", "font": "DejaVu Sans Mono", "fontSize": 12}, "encoding": {"x": {"datum": 109.31}, "y": {"datum": 6.210}}},
{"mark": {"type": "text", "text": "6.21", "color": "#e02020", "font": "DejaVu Sans Mono", "fontSize": 12}, "encoding": {"x": {"datum": 109.31}, "y": {"datum": 6.186}}},
{"mark": {"type": "text", "text": "2025/11/6 14:00:00", "color": "#ffffff", "font": "DejaVu Sans Mono", "fontSize": 10}, "encoding": {"x": {"datum": -0.19}, "y": {"datum": 6.018}}},
{"mark": {"type": "text", "text": "2025/12/12 15:00:00", "color": "#ffffff", "font": "DejaVu Sans Mono", "fontSize": 10, "align": "right"}, "encoding": {"x": {"datum": 104.9}, "y": {"datum": 6.018}}}
]
},
{
"width": 1000, "height": 115,
"data": {"name": "one"},
"layer": [
{"mark": {"type": "rule", "color": "#d00000", "strokeWidth": 1}, "encoding": {"y": {"datum": 110.6, "scale": {"domain": [-5.05, 111.1], "nice": false, "zero": false}, "axis": null}}},
{"mark": {"type": "rule", "color": "#d00000", "strokeWidth": 1}, "encoding": {"x": {"datum": -0.4375, "scale": {"domain": [-8.5625, 116.4375], "nice": false, "zero": false}, "axis": null}}},
{"mark": {"type": "rule", "color": "#d00000", "strokeWidth": 1}, "encoding": {"x": {"datum": 108.94}}},
{"mark": {"type": "rule", "color": "#c00000", "strokeWidth": 1, "strokeDash": [4, 4]}, "encoding": {"y": {"datum": 100}, "x": {"datum": -0.4375}, "x2": {"datum": 108.94}}},
{"mark": {"type": "rule", "color": "#c00000", "strokeWidth": 1, "strokeDash": [4, 4]}, "encoding": {"y": {"datum": 50}, "x": {"datum": -0.4375}, "x2": {"datum": 108.94}}},
{"mark": {"type": "rule", "color": "#c00000", "strokeWidth": 1, "strokeDash": [4, 4]}, "encoding": {"y": {"datum": 0}, "x": {"datum": -0.4375}, "x2": {"datum": 108.94}}},
{"data": {"name": "ebars"}, "mark": {"type": "bar", "width": 6, "strokeWidth": 1}, "encoding": {"x": {"field": "i", "type": "quantitative"}, "y": {"field": "v", "type": "quantitative"}, "y2": {"datum": 46}, "stroke": {"condition": {"test": "datum.v >= 46", "value": "#f01818"}, "value": "#00f0f0"}, "fill": {"condition": [{"test": "datum.s == 1 && datum.v >= 46", "value": "#ff1010"}, {"test": "datum.s == 1", "value": "#00ffff"}], "value": "transparent"}}},
{"data": {"name": "stock"}, "mark": {"type": "line", "color": "#ffffff", "strokeWidth": 2, "interpolate": "monotone"}, "encoding": {"x": {"field": "t", "type": "quantitative"}, "y": {"field": "v", "type": "quantitative"}}},
{"data": {"name": "market"}, "mark": {"type": "line", "color": "#ffff00", "strokeWidth": 2, "interpolate": "monotone"}, "encoding": {"x": {"field": "t", "type": "quantitative"}, "y": {"field": "v", "type": "quantitative"}}},
{"mark": {"type": "text", "text": "能量图", "color": "#ffffff"}, "encoding": {"x": {"datum": -8.3}, "y": {"datum": 89.2}}},
{"mark": {"type": "text", "text": "个股", "color": "#ffffff"}, "encoding": {"x": {"datum": -8.3}, "y": {"datum": 71.7}}},
{"mark": {"type": "text", "text": "42.60", "color": "#ffffff", "font": "DejaVu Sans Mono", "fontSize": 12}, "encoding": {"x": {"datum": -8.3}, "y": {"datum": 55.6}}},
{"mark": {"type": "text", "text": "大盘", "color": "#ffff00"}, "encoding": {"x": {"datum": -8.3}, "y": {"datum": 38.1}}},
{"mark": {"type": "text", "text": "36.10", "color": "#ffff00", "font": "DejaVu Sans Mono", "fontSize": 12}, "encoding": {"x": {"datum": -8.3}, "y": {"datum": 20.9}}},
{"mark": {"type": "text", "text": "100", "color": "#ffff00", "font": "DejaVu Sans Mono", "fontSize": 12}, "encoding": {"x": {"datum": 109.31}, "y": {"datum": 95}}},
{"mark": {"type": "text", "text": "50", "color": "#ffff00", "font": "DejaVu Sans Mono", "fontSize": 12}, "encoding": {"x": {"datum": 109.31}, "y": {"datum": 48.8}}},
{"mark": {"type": "text", "text": "0", "color": "#ffff00", "font": "DejaVu Sans Mono", "fontSize": 12}, "encoding": {"x": {"datum": 109.31}, "y": {"datum": -1.7}}}
]
},
{
"width": 1000, "height": 115,
"data": {"name": "one"},
"layer": [
{"mark": {"type": "rule", "color": "#d00000", "strokeWidth": 1}, "encoding": {"y": {"datum": 0.0645, "scale": {"domain": [-0.05, 0.065], "nice": false, "zero": false}, "axis": null}}},
{"mark": {"type": "rule", "color": "#d00000", "strokeWidth": 1}, "encoding": {"x": {"datum": -0.4375, "scale": {"domain": [-8.5625, 116.4375], "nice": false, "zero": false}, "axis": null}}},
{"mark": {"type": "rule", "color": "#d00000", "strokeWidth": 1}, "encoding": {"x": {"datum": 108.94}}},
{"mark": {"type": "rule", "color": "#c00000", "strokeWidth": 1, "strokeDash": [4, 4]}, "encoding": {"y": {"datum": 0.0493}, "x": {"datum": -0.4375}, "x2": {"datum": 108.94}}},
{"mark": {"type": "rule", "color": "#c00000", "strokeWidth": 1, "strokeDash": [4, 4]}, "encoding": {"y": {"datum": 0.005}, "x": {"datum": -0.4375}, "x2": {"datum": 108.94}}},
{"mark": {"type": "rule", "color": "#c00000", "strokeWidth": 1, "strokeDash": [4, 4]}, "encoding": {"y": {"datum": -0.045}, "x": {"datum": -0.4375}, "x2": {"datum": 108.94}}},
{"data": {"name": "mbars"}, "mark": {"type": "bar", "width": 6, "strokeWidth": 1}, "encoding": {"x": {"field": "i", "type": "quantitative"}, "y": {"field": "v", "type": "quantitative"}, "y2": {"datum": 0}, "stroke": {"condition": {"test": "datum.v >= 0", "value": "#f01818"}, "value": "#00f0f0"}, "fill": {"condition": [{"test": "datum.s == 1 && datum.v >= 0", "value": "#ff1010"}, {"test": "datum.s == 1", "value": "#00ffff"}], "value": "transparent"}}},
{"data": {"name": "diff"}, "mark": {"type": "line", "color": "#ffffff", "strokeWidth": 2, "interpolate": "monotone"}, "encoding": {"x": {"field": "t", "type": "quantitative"}, "y": {"field": "v", "type": "quantitative"}}},
{"data": {"name": "dea"}, "mark": {"type": "line", "color": "#ffff00", "strokeWidth": 2, "interpolate": "monotone"}, "encoding": {"x": {"field": "t", "type": "quantitative"}, "y": {"field": "v", "type": "quantitative"}}},
{"mark": {"type": "text", "text": "MACD趋势", "color": "#ffffff"}, "encoding": {"x": {"datum": -8.3}, "y": {"datum": 0.044}}},
{"mark": {"type": "text", "text": "DIFF", "color": "#ffffff", "font": "DejaVu Sans Mono", "fontSize": 12}, "encoding": {"x": {"datum": -8.3}, "y": {"datum": 0.0267}}},
{"mark": {"type": "text", "text": "DEA", "color": "#ffff00", "font": "DejaVu Sans Mono", "fontSize": 12}, "encoding": {"x": {"datum": -8.3}, "y": {"datum": 0.01}}},
{"mark": {"type": "text", "text": "0", "color": "#ffff00", "font": "DejaVu Sans Mono", "fontSize": 12}, "encoding": {"x": {"datum": 109.31}, "y": {"datum": 0.0033}}}
]
},
{
"width": 1000, "height": 130,
"data": {"name": "one"},
"layer": [
{"mark": {"type": "rule", "color": "#d00000", "strokeWidth": 1}, "encoding": {"y": {"datum": 110.0, "scale": {"domain": [-19.8, 110.7], "nice": false, "zero": false}, "axis": null}}},
{"mark": {"type": "rule", "color": "#d00000", "strokeWidth": 1}, "encoding": {"x": {"datum": -0.4375, "scale": {"domain": [-8.5625, 116.4375], "nice": false, "zero": false}, "axis": null}}},
{"mark": {"type": "rule", "color": "#d00000", "strokeWidth": 1}, "encoding": {"x": {"datum": 108.94}}},
{"mark": {"type": "rule", "color": "#c00000", "strokeWidth": 1, "strokeDash": [4, 4]}, "encoding": {"y": {"datum": 100}, "x": {"datum": -0.4375}, "x2": {"datum": 108.94}}},
{"mark": {"type": "rule", "color": "#c00000", "strokeWidth": 1, "strokeDash": [4, 4]}, "encoding": {"y": {"datum": 0}, "x": {"datum": -0.4375}, "x2": {"datum": 108.94}}},
{"mark": {"type": "rule", "color": "#ffff40", "strokeWidth": 1}, "encoding": {"y": {"datum": 80}, "x": {"datum": -0.4375}, "x2": {"datum": 108.94}}},
{"mark": {"type": "rule", "color": "#ffff40", "strokeWidth": 1}, "encoding": {"y": {"datum": 20}, "x": {"datum": -0.4375}, "x2": {"datum": 108.94}}},
{"mark": {"type": "rule", "color": "#ffffff", "strokeWidth": 1, "strokeDash": [4, 4]}, "encoding": {"y": {"datum": 50}, "x": {"datum": -0.4375}, "x2": {"datum": 108.94}}},
{"data": {"name": "speedSlow"}, "mark": {"type": "line", "color": "#2a7a2a", "strokeWidth": 1, "strokeDash": [2, 3], "interpolate": "monotone"}, "encoding": {"x": {"field": "t", "type": "quantitative"}, "y": {"field": "v", "type": "quantitative"}}},
{"data": {"name": "speed"}, "mark": {"type": "line", "color": "#1f8a1f", "strokeWidth": 2.5, "interpolate": "monotone"}, "encoding": {"x": {"field": "t", "type": "quantitative"}, "y": {"field": "v", "type": "quantitative"}}},
{"data": {"name": "gaodi"}, "mark": {"type": "line", "color": "#ffffff", "strokeWidth": 2, "interpolate": "monotone"}, "encoding": {"x": {"field": "t", "type": "quantitative"}, "y": {"field": "v", "type": "quantitative"}}},
{"mark": {"type": "text", "text": "高抛低吸", "color": "#ffffff"}, "encoding": {"x": {"datum": -8.3}, "y": {"datum": 84}}},
{"mark": {"type": "text", "text": "16.96", "color": "#ffffff", "font": "DejaVu Sans Mono", "fontSize": 12}, "encoding": {"x": {"datum": -8.3}, "y": {"datum": 67.3}}},
{"mark": {"type": "text", "text": "速度线", "color": "#2a9a2a"}, "encoding": {"x": {"datum": -8.3}, "y": {"datum": 49.9}}},
{"mark": {"type": "text", "text": "21.79", "color": "#2a9a2a", "font": "DejaVu Sans Mono", "fontSize": 12}, "encoding": {"x": {"datum": -8.3}, "y": {"datum": 33.1}}},
{"mark": {"type": "text", "text": "100", "color": "#ffff00", "font": "DejaVu Sans Mono", "fontSize": 12}, "encoding": {"x": {"datum": 109.31}, "y": {"datum": 98}}},
{"mark": {"type": "text", "text": "80", "color": "#ffff00", "font": "DejaVu Sans Mono", "fontSize": 12}, "encoding": {"x": {"datum": 109.31}, "y": {"datum": 78}}},
{"mark": {"type": "text", "text": "50", "color": "#ffff00", "font": "DejaVu Sans Mono", "fontSize": 12}, "encoding": {"x": {"datum": 109.31}, "y": {"datum": 47.9}}},
{"mark": {"type": "text", "text": "20", "color": "#ffff00", "font": "DejaVu Sans Mono", "fontSize": 12}, "encoding": {"x": {"datum": 109.31}, "y": {"datum": 18.1}}},
{"mark": {"type": "text", "text": "0", "color": "#ffff00", "font": "DejaVu Sans Mono", "fontSize": 12}, "encoding": {"x": {"datum": 109.31}, "y": {"datum": -0.3}}}
]
}
]
}
